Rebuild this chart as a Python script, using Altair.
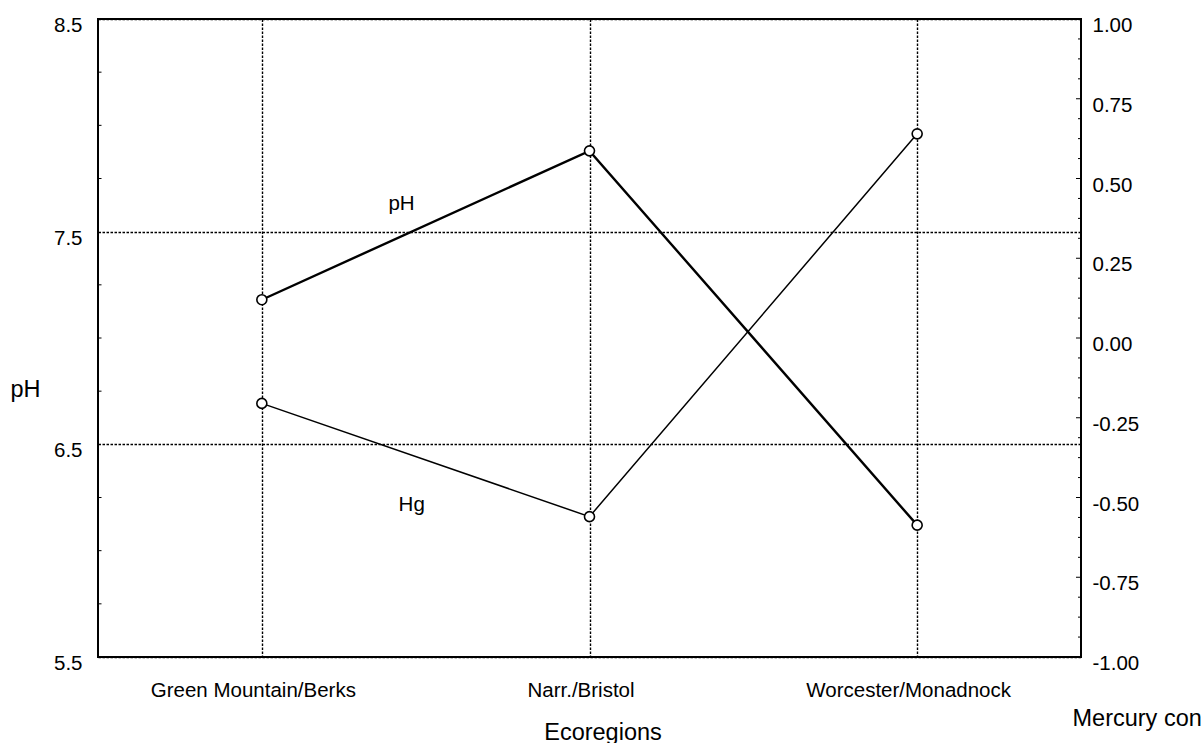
import altair as alt
import pandas as pd

# Mean values per ecoregion
ecoregions = ["Green Mountain/Berks", "Narr./Bristol", "Worcester/Monadnock"]
ph_values = [7.18, 7.88, 6.12]
hg_values = [-0.205, -0.56, 0.64]

# Axis label positions and minor tick positions
ph_labels = [5.5, 6.5, 7.5, 8.5]
ph_minor = [5.75, 6.0, 6.25, 6.75, 7.0, 7.25, 7.75, 8.0, 8.25]
hg_labels = [-1.0, -0.75, -0.5, -0.25, 0.0, 0.25, 0.5, 0.75, 1.0]
hg_major_inner = [-0.75, -0.5, -0.25, 0.0, 0.25, 0.5, 0.75]
hg_minor = [-0.9375, -0.875, -0.8125, -0.6875, -0.625, -0.5625,
            -0.4375, -0.375, -0.3125, -0.1875, -0.125, -0.0625,
            0.0625, 0.125, 0.1875, 0.3125, 0.375, 0.4375,
            0.5625, 0.625, 0.6875, 0.8125, 0.875, 0.9375]

FONT = "Liberation Sans"
W, H = 983, 638

df = pd.DataFrame({"region": ecoregions, "ph": ph_values, "hg": hg_values})

x_scale = alt.Scale(domain=ecoregions, padding=0.5)
ph_scale = alt.Scale(domain=[5.5, 8.5], nice=False, zero=False)
hg_scale = alt.Scale(domain=[-1.0, 1.0], nice=False, zero=False)

# The same x axis definition is given to every layer that uses the x field,
# so the shared axis merges cleanly.
x_axis = alt.Axis(
    title="Ecoregions", titleX=504.5, titleY=82, titleAlign="center",
    titleBaseline="alphabetic", labelAngle=0, labelPadding=23,
    labelOffset=-9, labelLimit=400,
    ticks=False, tickSize=0, domain=False, grid=True,
)
ph_axis = alt.Axis(
    title="pH", titleAngle=0, titleX=-88, titleY=377, titleAlign="left",
    titleBaseline="alphabetic", values=ph_labels, format=".1f",
    labelPadding=16, labelBaseline="middle", labelOffset=6.5,
    labelFlush=False, labelOverlap=False,
    ticks=False, tickSize=0, domain=False, grid=True,
)
hg_axis = alt.Axis(
    orient="right", title="Mercury con", titleAngle=0,
    titleX=-9, titleY=706, titleAlign="left", titleBaseline="alphabetic",
    values=hg_labels,
    labelExpr="replace(format(datum.value, '.2f'), '\u2212', '-')",
    labelPadding=11, labelBaseline="middle", labelOffset=6.5,
    labelFlush=False, labelOverlap=False,
    ticks=False, tickSize=0, domain=False, grid=False,
)

x_enc = alt.X("region:N", scale=x_scale, sort=ecoregions, axis=x_axis)
base = alt.Chart(df)

# pH series on the left axis
ph_line = base.mark_line(color="black", strokeWidth=2.4).encode(
    x=x_enc,
    y=alt.Y("ph:Q", scale=ph_scale, axis=ph_axis),
)
ph_pts = base.mark_point(shape="circle", fill="white", stroke="black",
                         strokeWidth=1.6, size=100, opacity=1).encode(
    x=x_enc,
    y=alt.Y("ph:Q", scale=ph_scale, axis=None),
)
ph_ticks = alt.Chart(pd.DataFrame({"ph": ph_minor})).mark_rule(
    color="black", strokeWidth=1).encode(
    y=alt.Y("ph:Q", scale=ph_scale, axis=None),
    x=alt.value(0), x2=alt.value(3.5),
)

# Mercury series on the right axis
hg_line = base.mark_line(color="black", strokeWidth=1.5).encode(
    x=x_enc,
    y=alt.Y("hg:Q", scale=hg_scale, axis=hg_axis),
)
hg_pts = base.mark_point(shape="circle", fill="white", stroke="black",
                         strokeWidth=1.6, size=100, opacity=1).encode(
    x=x_enc,
    y=alt.Y("hg:Q", scale=hg_scale, axis=None),
)
hg_minor_ticks = alt.Chart(pd.DataFrame({"hg": hg_minor})).mark_rule(
    color="black", strokeWidth=1).encode(
    y=alt.Y("hg:Q", scale=hg_scale, axis=None),
    x=alt.value(W - 3), x2=alt.value(W),
)
hg_major_ticks = alt.Chart(pd.DataFrame({"hg": hg_major_inner})).mark_rule(
    color="black", strokeWidth=1).encode(
    y=alt.Y("hg:Q", scale=hg_scale, axis=None),
    x=alt.value(W - 5), x2=alt.value(W),
)

# Series name annotations
ph_note = alt.Chart(pd.DataFrame({"t": ["pH"]})).mark_text(
    font=FONT, fontSize=20.5, color="black", align="center",
    baseline="alphabetic").encode(
    text="t:N", x=alt.value(303.5), y=alt.value(190.5))
hg_note = alt.Chart(pd.DataFrame({"t": ["Hg"]})).mark_text(
    font=FONT, fontSize=20.5, color="black", align="center",
    baseline="alphabetic").encode(
    text="t:N", x=alt.value(313.7), y=alt.value(491.7))

# Every y scale carries an explicit domain, so independent scales line up
chart = alt.layer(
    ph_ticks, hg_minor_ticks, hg_major_ticks,
    ph_line, hg_line, ph_pts, hg_pts, ph_note, hg_note,
).resolve_scale(
    y="independent"
).properties(
    width=W, height=H,
    autosize=alt.AutoSizeParams(type="none"),
    padding={"left": 98, "top": 19, "right": 122, "bottom": 86},
    background="white",
).configure_view(
    stroke="black", strokeWidth=2,
).configure_axis(
    labelFont=FONT, labelFontSize=20.5, labelColor="black",
    titleFont=FONT, titleFontSize=23.5, titleFontWeight="normal", titleColor="black",
    gridColor="black", gridDash=[2.5, 1.5], gridWidth=1.4, gridOpacity=1,
)

chart.save("out.html", embed_options={"renderer": "svg", "actions": False})
